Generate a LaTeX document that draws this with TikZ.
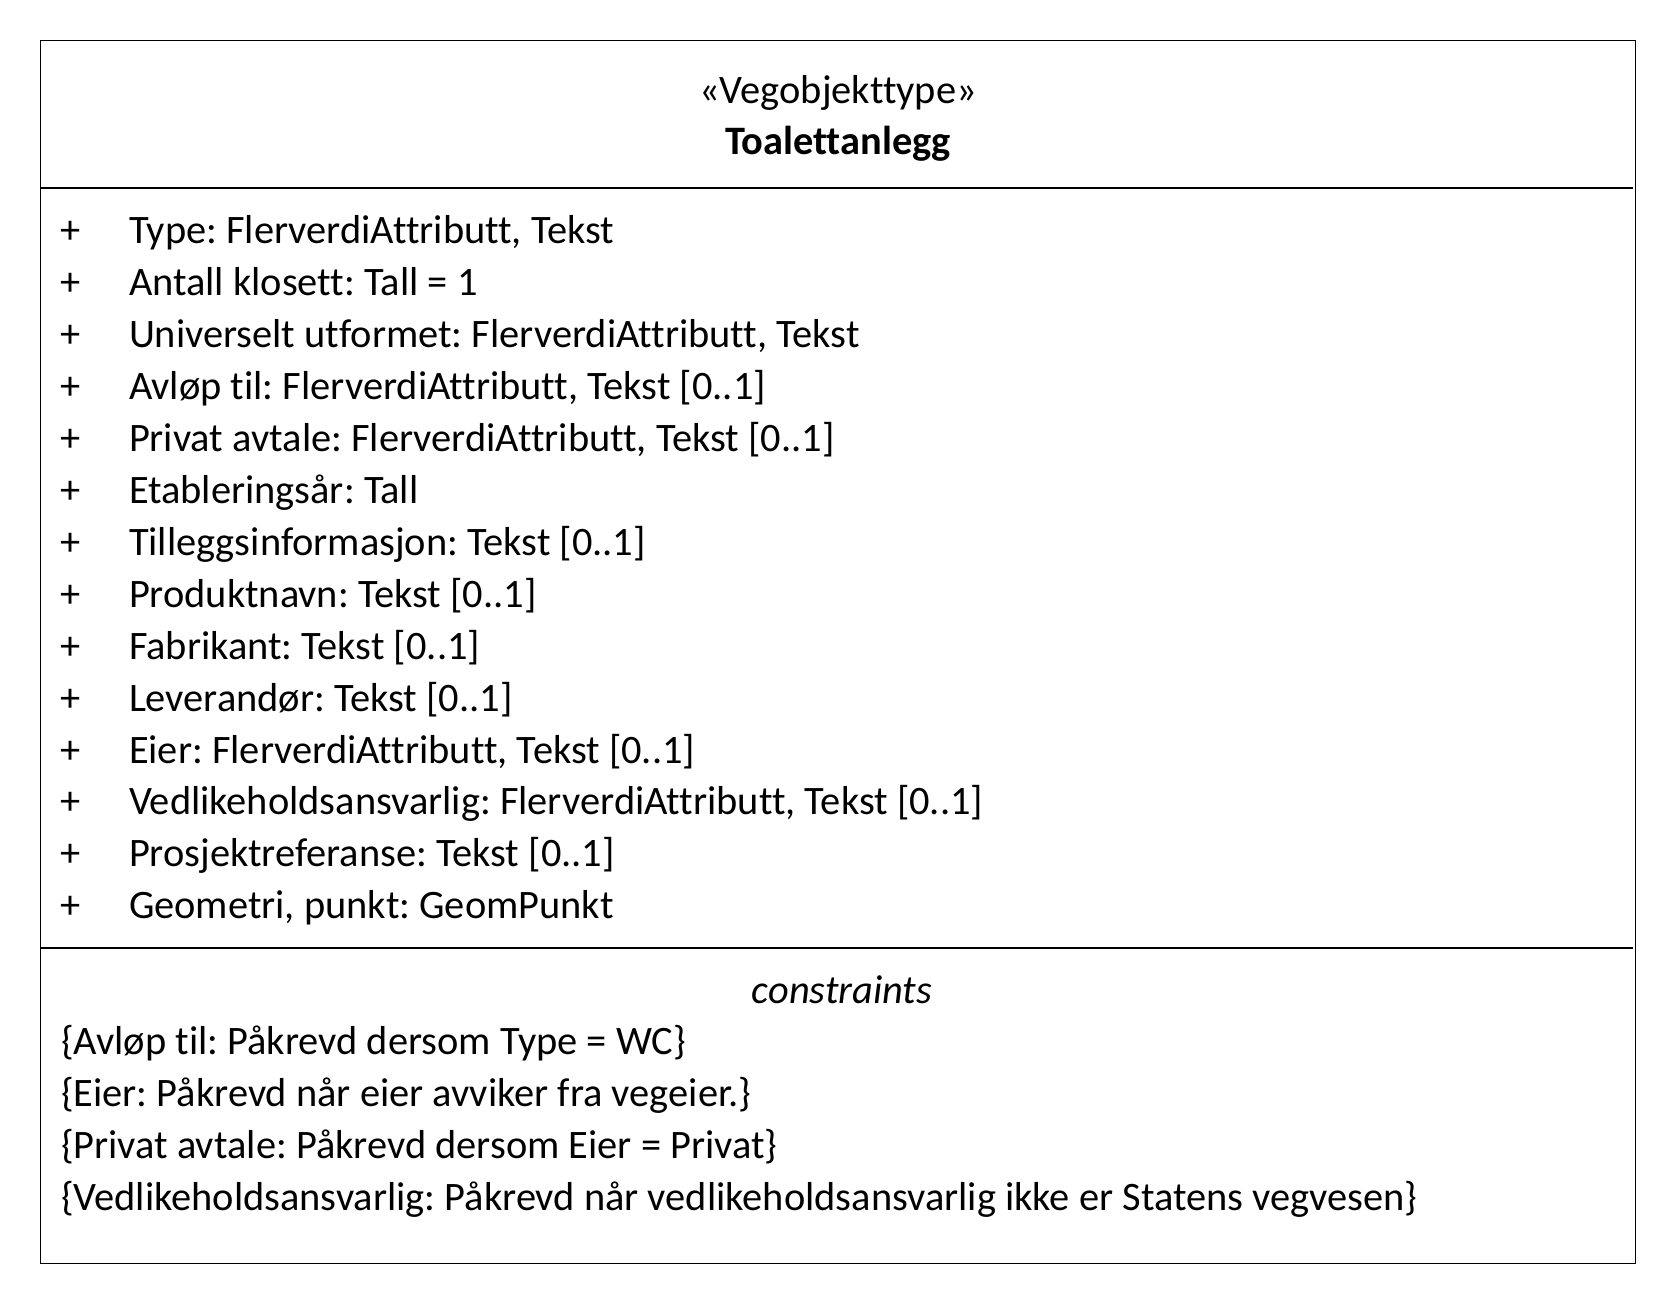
\documentclass[tikz,border=0pt]{standalone}
\usepackage{fontspec}
\setmainfont{Carlito}[Ligatures=NoCommon]
\begin{document}
\frenchspacing
\begin{tikzpicture}[x=1pt,y=-1pt,
  txt/.style={inner sep=0pt,outer sep=0pt,anchor=base west,font=\fontsize{40.4}{48}\selectfont},
  ctr/.style={inner sep=0pt,outer sep=0pt,anchor=base,font=\fontsize{40.4}{48}\selectfont},
  frame/.style={draw=black,line width=1.7pt},
  rule/.style={draw=black,line width=1.5pt}]
\useasboundingbox (0,0) rectangle (1676,1304);
% class frame and compartment rules
\draw[frame] (40.5,40.5) rectangle (1635.5,1263.5);
\draw[rule] (40.5,188) -- (1633,188);
\draw[rule] (40.5,948) -- (1633,948);
% header
\node[ctr] (stereo) at (838,103) {«Vegobjekttype»};
\node[ctr,font=\fontsize{40.4}{48}\selectfont\bfseries] (name) at (838,154) {Toalettanlegg};
% attributes
\foreach \t [count=\i from 0] in {
  {Type: FlerverdiAttributt, Tekst},
  {Antall klosett: Tall = 1},
  {Universelt utformet: FlerverdiAttributt, Tekst},
  {Avløp til: FlerverdiAttributt, Tekst [0..1]},
  {Privat avtale: FlerverdiAttributt, Tekst [0..1]},
  {Etableringsår: Tall},
  {Tilleggsinformasjon: Tekst [0..1]},
  {Produktnavn: Tekst [0..1]},
  {Fabrikant: Tekst [0..1]},
  {Leverandør: Tekst [0..1]},
  {Eier: FlerverdiAttributt, Tekst [0..1]},
  {Vedlikeholdsansvarlig: FlerverdiAttributt, Tekst [0..1]},
  {Prosjektreferanse: Tekst [0..1]},
  {Geometri, punkt: GeomPunkt}} {
  \node[ctr] (vis\i) at (70.5,243.5+51.95*\i) {+};
  \node[txt] (attr\i) at (129,243.5+51.95*\i) {\t};
}
% constraints
\node[ctr,font=\fontsize{40.4}{48}\selectfont\itshape] (ctitle) at (842,1003.5) {constraints};
\foreach \t [count=\i from 0] in {
  {\{Avløp til: Påkrevd dersom Type = WC\}},
  {\{Eier: Påkrevd når eier avviker fra vegeier.\}},
  {\{Privat avtale: Påkrevd dersom Eier = Privat\}},
  {\{Vedlikeholdsansvarlig: Påkrevd når vedlikeholdsansvarlig ikke er Statens vegvesen\}}} {
  \node[txt] (con\i) at (61,1054.5+52*\i) {\t};
}
\end{tikzpicture}
\end{document}
